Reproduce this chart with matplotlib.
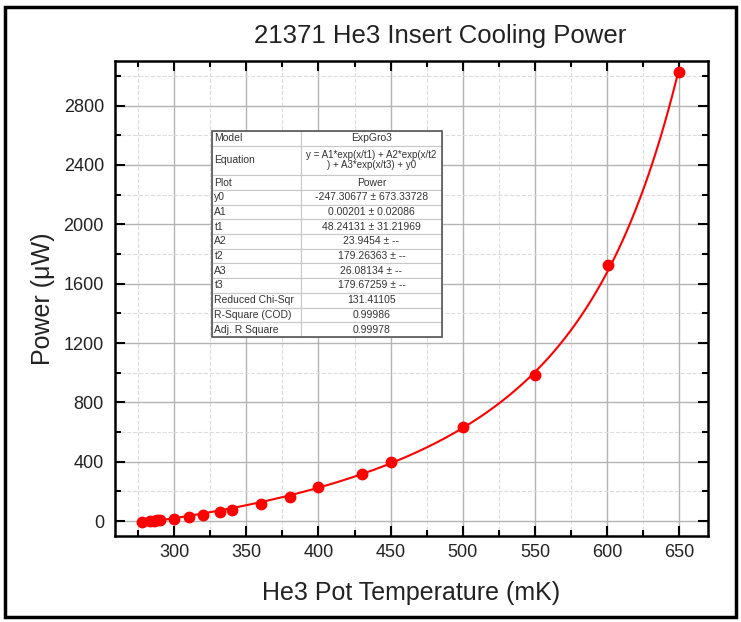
import numpy as np
import matplotlib
matplotlib.use("Agg")
import matplotlib.pyplot as plt
from matplotlib.patches import Rectangle
from matplotlib.ticker import MultipleLocator

plt.rcParams['font.family'] = ['Liberation Sans', 'DejaVu Sans']

temp_mk = [278, 283, 286, 288, 290, 300, 310, 320, 332, 340, 360, 380, 400, 430, 450, 500, 550, 601, 650]
power_uw = [-5, 0, 2, 5, 8, 16, 27, 39, 59, 72, 113, 165, 228, 320, 399, 633, 985, 1728, 3023]

# ExpGro3 fit parameters as printed in the table
y0, A1, t1, A2, t2, A3, t3 = -247.30677, 0.00201, 48.24131, 23.9454, 179.26363, 26.08134, 179.67259

table_keys = ['Model', 'Equation', 'Plot', 'y0', 'A1', 't1', 'A2', 't2', 'A3', 't3',
              'Reduced Chi-Sqr', 'R-Square (COD)', 'Adj. R Square']
table_vals = ['ExpGro3', 'y = A1*exp(x/t1) + A2*exp(x/t2\n) + A3*exp(x/t3) + y0', 'Power',
              '-247.30677 \u00b1 673.33728', '0.00201 \u00b1 0.02086', '48.24131 \u00b1 31.21969',
              '23.9454 \u00b1 --', '179.26363 \u00b1 --', '26.08134 \u00b1 --', '179.67259 \u00b1 --',
              '131.41105', '0.99986', '0.99978']

fig = plt.figure(figsize=(7.41, 6.22), dpi=100)
ax = fig.add_axes([0.1552, 0.1383, 0.8003, 0.7636])

# fit curve
xf = np.linspace(temp_mk[0], temp_mk[-1], 400)
yf = A1 * np.exp(xf / t1) + A2 * np.exp(xf / t2) + A3 * np.exp(xf / t3) + y0
ax.plot(xf, yf, color='red', lw=1.5, zorder=3)
ax.plot(temp_mk, power_uw, 'o', color='red', ms=7.5, zorder=4)

ax.set_xlim(259, 670)
ax.set_ylim(-100, 3100)
ax.xaxis.set_major_locator(MultipleLocator(50))
ax.xaxis.set_minor_locator(MultipleLocator(25))
ax.yaxis.set_major_locator(MultipleLocator(400))
ax.yaxis.set_minor_locator(MultipleLocator(200))
ax.grid(which='major', color='#b4b4b4', lw=1.0)
ax.grid(which='minor', color='#dcdcdc', lw=0.8, ls='--')
ax.set_axisbelow(True)
ax.tick_params(which='both', direction='in', top=True, right=True, width=1.5,
               labelsize=13, labelcolor='#222222')
ax.tick_params(which='major', length=7)
ax.tick_params(which='minor', length=4)
ax.tick_params(axis='y', pad=8)
ax.tick_params(axis='x', pad=6)
for s in ax.spines.values():
    s.set_linewidth(1.8)

ax.set_title('21371 He3 Insert Cooling Power', fontsize=18.5, color='#222222', pad=13, x=0.548)
ax.set_xlabel('He3 Pot Temperature (mK)', fontsize=18, color='#222222', labelpad=14)
ax.set_ylabel('Power (\u03bcW)', fontsize=18, color='#222222', labelpad=6)

# fit results table, drawn in axes coordinates
tx0, tx1, txm = 0.1636, 0.5514, 0.3136
ty_top, ty_bot = 0.8526, 0.419
units = [1, 2] + [1] * 11
uh = (ty_top - ty_bot) / sum(units)
y = ty_top
for key, val, u in zip(table_keys, table_vals, units):
    h = u * uh
    for xa, xb in [(tx0, txm), (txm, tx1)]:
        ax.add_patch(Rectangle((xa, y - h), xb - xa, h, transform=ax.transAxes,
                               facecolor='white', edgecolor='#c8c8c8', lw=0.8, zorder=5))
    ax.text(tx0 + 0.004, y - h / 2, key, transform=ax.transAxes, fontsize=7.5,
            color='#333333', va='center', ha='left', zorder=6)
    fs = 7.0 if u == 2 else 7.5
    ax.text((txm + tx1) / 2, y - h / 2, val, transform=ax.transAxes, fontsize=fs,
            color='#333333', va='center', ha='center', zorder=6, linespacing=1.0)
    y -= h
ax.add_patch(Rectangle((tx0, ty_bot), tx1 - tx0, ty_top - ty_bot, transform=ax.transAxes,
                       facecolor='none', edgecolor='#555555', lw=1.2, zorder=7))

# outer frame round the whole picture
fig.patches.append(Rectangle((0.007, 0.008), 0.986, 0.981, transform=fig.transFigure,
                             facecolor='none', edgecolor='black', lw=2.5))

fig.savefig('out.png', dpi=100)
